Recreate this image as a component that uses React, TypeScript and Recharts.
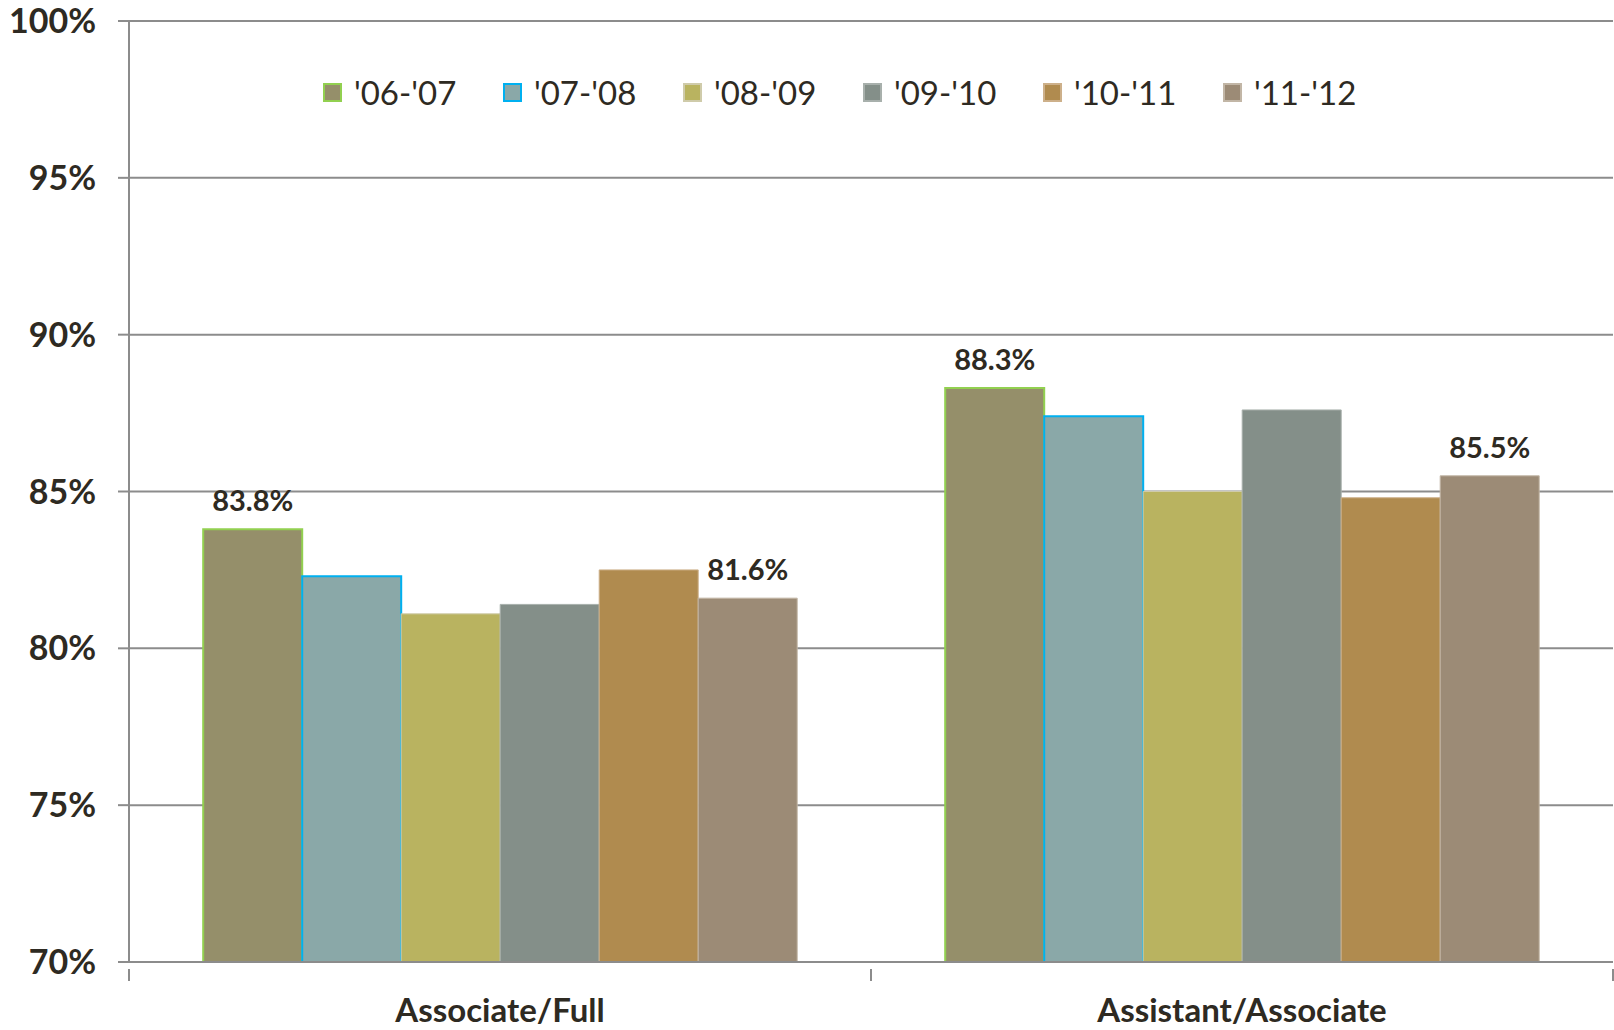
import { BarChart, Bar, XAxis, YAxis, CartesianGrid, Legend, LabelList } from 'recharts';

const categories = ['Associate/Full', 'Assistant/Associate'];
const seriesNames = ["'06-'07", "'07-'08", "'08-'09", "'09-'10", "'10-'11", "'11-'12"];
const v0607 = [83.8, 88.3];
const v0708 = [82.3, 87.4];
const v0809 = [81.1, 85.0];
const v0910 = [81.4, 87.6];
const v1011 = [82.5, 84.8];
const v1112 = [81.6, 85.5];
const yTicks = [70, 75, 80, 85, 90, 95, 100];

const seriesValues = [v0607, v0708, v0809, v0910, v1011, v1112];
const keys = ['s0', 's1', 's2', 's3', 's4', 's5'];
const fills = ['#958F6A', '#8AA8A8', '#B9B360', '#848F89', '#B08B4F', '#9C8B76'];
const strokes = ['#92D050', '#00B0F0', '#CFCBAA', '#A8B0AC', '#CDB08A', '#C2B6A6'];
const strokeWidths = [2, 2, 1, 1, 1, 1];
const labelled = [true, false, false, false, false, true];

const data = categories.map((c, i) => {
  const row: Record<string, string | number> = { name: c };
  keys.forEach((k, j) => (row[k] = seriesValues[j][i]));
  return row;
});

const W = 1614;
const H = 1030;
const M = { top: 21, right: 1, left: 0, bottom: 0 };
const Y_W = 129;
const HALF_BAND = (W - Y_W - M.right) / categories.length / 2;
const TEXT = '#2E2A22';
const FONT = 'Lato, "Open Sans", sans-serif';
const GRID = '#8C8C8C';

const CatTick = (props: any) => {
  const { x, y, payload, index } = props;
  return (
    <g>
      <line x1={x - HALF_BAND} x2={x - HALF_BAND} y1={y - 1} y2={y + 11} stroke={GRID} strokeWidth={2} />
      {index === categories.length - 1 && (
        <line x1={x + HALF_BAND} x2={x + HALF_BAND} y1={y - 1} y2={y + 11} stroke={GRID} strokeWidth={2} />
      )}
      <text
        x={x}
        y={y + 39}
        textAnchor="middle"
        dominantBaseline="central"
        fill={TEXT}
        fontSize={33}
        fontWeight={700}
        fontFamily={FONT}
      >
        {payload.value}
      </text>
    </g>
  );
};

const LegendBox = (props: any) => {
  const { payload } = props;
  return (
    <div style={{ display: 'flex', fontFamily: FONT }}>
      {payload.map((p: any, i: number) => (
        <div key={i} style={{ width: 180, display: 'flex', alignItems: 'center' }}>
          <span
            style={{
              width: 15,
              height: 15,
              background: fills[i],
              border: `2px solid ${strokes[i]}`,
              marginRight: 12,
              display: 'inline-block',
            }}
          />
          <span style={{ fontSize: 33, color: TEXT }}>{p.value}</span>
        </div>
      ))}
    </div>
  );
};

export default function App() {
  return (
    <div style={{ position: 'absolute', left: 0, top: 0, background: '#fff' }}>
      <BarChart width={W} height={H} data={data} margin={M} barCategoryGap="10%" barGap={0}>
        <CartesianGrid vertical={false} stroke={GRID} strokeWidth={2} />
        <XAxis
          dataKey="name"
          height={H - 962 - M.bottom}
          axisLine={{ stroke: GRID, strokeWidth: 2 }}
          tickLine={false}
          tick={<CatTick />}
          interval={0}
        />
        <YAxis
          width={Y_W}
          domain={[70, 100]}
          ticks={yTicks}
          allowDataOverflow
          tickFormatter={(v) => `${v}%`}
          axisLine={{ stroke: GRID, strokeWidth: 2 }}
          tickLine={{ stroke: GRID, strokeWidth: 2 }}
          tickSize={11}
          tickMargin={22}
          tick={{ fill: TEXT, fontSize: 34, fontWeight: 700, fontFamily: FONT }}
        />
        <Legend
          verticalAlign="middle"
          content={<LegendBox />}
          wrapperStyle={{ top: 72, left: 323, width: 1100 }}
        />
        {keys.map((k, i) => (
          <Bar
            key={k}
            dataKey={k}
            name={seriesNames[i]}
            fill={fills[i]}
            stroke={strokes[i]}
            strokeWidth={strokeWidths[i]}
            isAnimationActive={false}
          >
            {labelled[i] && (
              <LabelList
                dataKey={k}
                position="top"
                offset={18}
                formatter={(v: any) => `${Number(v).toFixed(1)}%`}
                style={{ fill: TEXT, fontSize: 29, fontWeight: 700, fontFamily: FONT }}
              />
            )}
          </Bar>
        ))}
      </BarChart>
    </div>
  );
}
